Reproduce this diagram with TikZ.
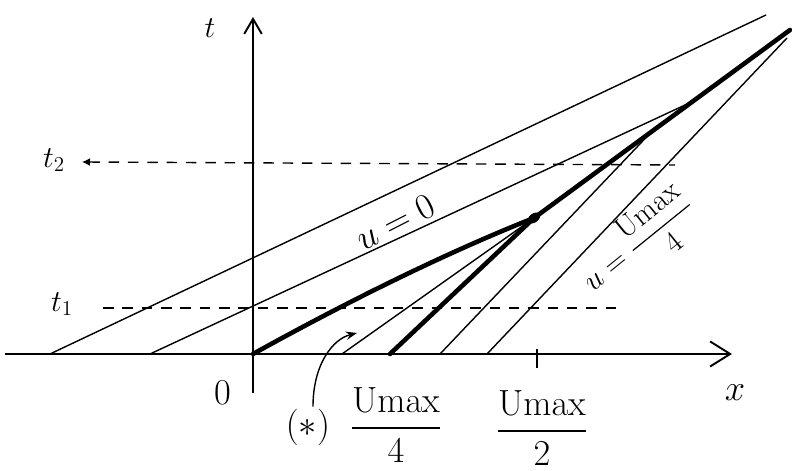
\documentclass[tikz,border=0pt]{standalone}
\usepackage{amsmath}
\usepackage{tikz}
\usetikzlibrary{arrows.meta,positioning,calc}

\begin{document}
\begin{tikzpicture}[
  axis/.style={line width=1.1pt,-{Straight Barb[length=4mm,width=5mm]}},
  char/.style={line width=0.8pt},
  shock/.style={line width=2.6pt,line cap=round},
  level/.style={line width=0.8pt,dash pattern=on 6pt off 5pt},
  lbl/.style={font=\LARGE,inner sep=1pt},
]
\useasboundingbox (-5.06,-2.34) rectangle (10.78,7.08);
% axes
\coordinate (o) at (0,0);
\coordinate (xl) at (-4.96,0);
\coordinate (xr) at (9.58,0);
\coordinate (tb) at (0,-0.78);
\coordinate (tt) at (0,6.74);
\draw[axis] (xl) -- (xr);
\draw[axis,-{Straight Barb[length=3mm,width=3.5mm]}] (tb) -- (tt);
% feet of the characteristics
\coordinate (a1) at (-4.06,0);
\coordinate (a2) at (-2.06,0);
\coordinate (b1) at (1.78,0);
\coordinate (q4) at (2.74,0);
\coordinate (c1) at (3.74,0);
\coordinate (c2) at (4.68,0);
\coordinate (q2) at (5.68,0);
% shock
\coordinate (d) at (5.62,2.72);
\coordinate (s) at (10.74,6.48);
\coordinate (e1) at (10.26,6.78);
\coordinate (e2) at ($(d)!0.62!(s)$);
\coordinate (e3) at ($(d)!0.46!(s)$);
\coordinate (e4) at (10.68,6.32);
\draw[char] (a1) -- (e1);
\draw[char] (a2) -- (e2);
\draw[char] (b1) -- (d);
\draw[char] (c1) -- (e3);
\draw[char] (c2) -- (e4);
\draw[shock] (o) .. controls (1.8,1.0) and (3.8,2.0) .. (d);
\draw[shock] (q4) -- (d);
\draw[shock] (d) -- (s);
\fill[rotate around={36:(d)}] (d) ellipse (0.14 and 0.09);
\draw[char] ($(q2)+(0,0.1)$) -- ($(q2)+(0,-0.28)$);
% levels t1, t2
\coordinate (t2s) at (-3.42,3.84);
\coordinate (t2e) at (8.44,3.78);
\coordinate (t1s) at (-3.0,0.92);
\coordinate (t1e) at (7.28,0.92);
\draw[level,{Latex[length=1.6mm,width=1.6mm]}-] (t2s) -- (t2e);
\draw[level] (t1s) -- (t1e);
% labels
\node[lbl] (tlab) at (-0.86,6.52) {$t$};
\node[lbl,font=\huge] (xlab) at (9.64,-0.78) {$x$};
\node[lbl,font=\huge] (zero) at (-0.6,-0.78) {0};
\node[lbl] (t2lab) at (-3.98,3.88) {$t_2$};
\node[lbl] (t1lab) at (-3.82,1.0) {$t_1$};
\node[lbl,font=\huge,rotate=27] (u0) at (2.84,2.64) {$u=0$};
\node[lbl,rotate=39] (u4) at (7.7,2.22) {$u=\dfrac{\mathrm{Umax}}{4}$};
\node[lbl,font=\huge] (q4lab) at (2.86,-1.42) {$\dfrac{\mathrm{Umax}}{4}$};
\node[lbl,font=\huge] (q2lab) at (5.78,-1.48) {$\dfrac{\mathrm{Umax}}{2}$};
\node[lbl,font=\huge] (star) at (1.1,-1.46) {$(\ast)$};
\coordinate (sp) at (2.08,0.42);
\draw[char,-{Stealth[length=2.2mm]}] ([xshift=1mm]star.north) .. controls (1.2,-0.2) and (1.6,0.3) .. (sp);
\end{tikzpicture}
\end{document}
